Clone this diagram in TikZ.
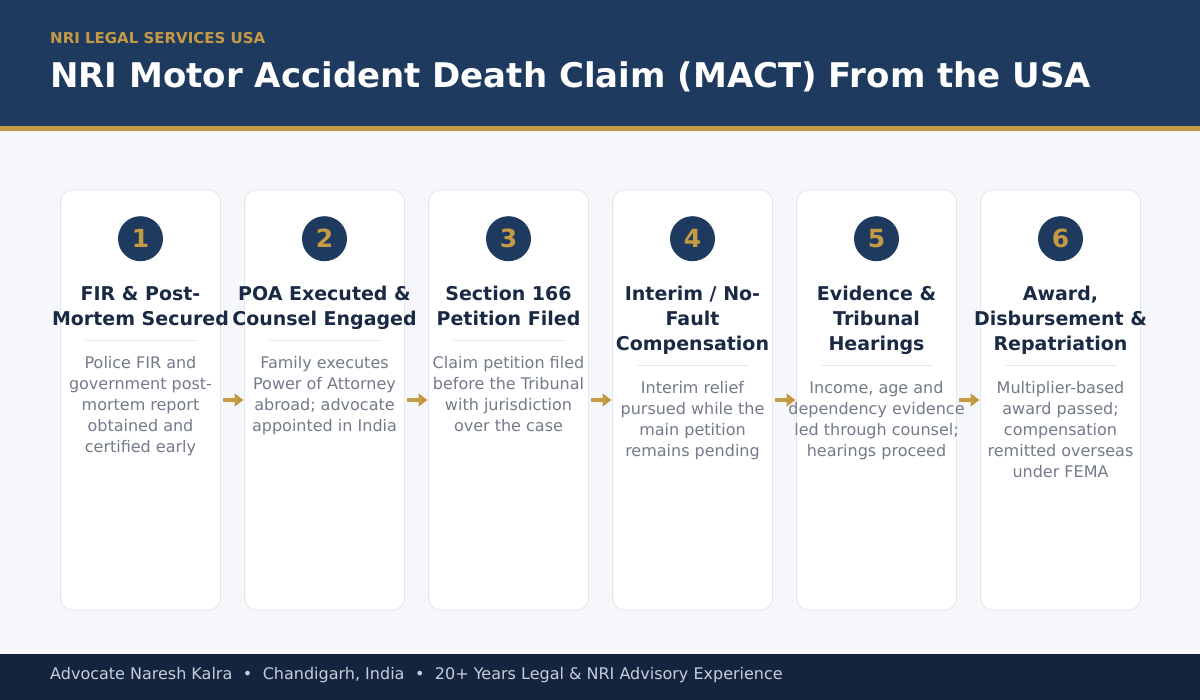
\documentclass[tikz,border=0pt]{standalone}
\usepackage{xcolor}
\usepackage{fontspec}
\setmainfont{DejaVu Sans}
\usetikzlibrary{positioning, arrows.meta}
\definecolor{navy}{HTML}{1F3A5F}
\definecolor{footnavy}{HTML}{15243E}
\definecolor{gold}{HTML}{C49A45}
\definecolor{pagebg}{HTML}{F5F7FA}
\definecolor{cardline}{HTML}{E1E5EC}
\definecolor{divider}{HTML}{E6E8EC}
\definecolor{ink}{HTML}{1A2A44}
\definecolor{slate}{HTML}{737A88}
\definecolor{foottext}{HTML}{C5CDD9}
\tikzstyle{card} = [rectangle, rounded corners=12pt, minimum width=160pt, minimum height=420pt, outer sep=0pt, draw=cardline, fill=white, line width=0.8pt]
\tikzstyle{badge} = [circle, minimum size=45pt, inner sep=0pt, fill=navy, text=gold, font=\bfseries\fontsize{25}{25}\selectfont]
\tikzstyle{steptitle} = [anchor=north, align=center, inner sep=0pt, text=ink, font=\bfseries\fontsize{19}{25}\selectfont]
\tikzstyle{stepdesc} = [anchor=north, align=center, inner sep=0pt, text=slate, font=\fontsize{16}{21}\selectfont]
\tikzstyle{rule} = [draw=divider, line width=0.8pt]
\tikzstyle{arrow} = [draw=gold, line width=3.5pt, -{Triangle[length=9pt, width=13pt]}, shorten <=2pt, shorten >=1pt]
\begin{document}
\begin{tikzpicture}[x=1pt, y=-1pt, node distance=24pt]
    \useasboundingbox (0,0) rectangle (1200,700);
    % Background and bands
    \fill[pagebg] (0,0) rectangle (1200,700);
    \fill[navy] (0,0) rectangle (1200,126);
    \fill[gold] (0,126) rectangle (1200,131);
    \fill[footnavy] (0,654) rectangle (1200,700);
    \node[anchor=base west, inner sep=0pt, text=gold, font=\bfseries\fontsize{15}{15}\selectfont] (kicker) at (50,44) {NRI LEGAL SERVICES USA};
    \node[anchor=base west, inner sep=0pt, text=white, font=\bfseries\fontsize{34}{34}\selectfont] (headline) at (50,88) {NRI Motor Accident Death Claim (MACT) From the USA};
    \node[anchor=base west, inner sep=0pt, text=foottext, font=\fontsize{16}{16}\selectfont] (credit) at (50,679) {Advocate Naresh Kalra\hspace{10.5pt}•\hspace{10.5pt}Chandigarh, India\hspace{10.5pt}•\hspace{10.5pt}20+ Years Legal \& NRI Advisory Experience};

    % Cards
    \node [card] (card1) at (140.5,400) {};
    \node [card, right=of card1] (card2) {};
    \node [card, right=of card2] (card3) {};
    \node [card, right=of card3] (card4) {};
    \node [card, right=of card4] (card5) {};
    \node [card, right=of card5] (card6) {};

    % Badges
    \node [badge, below=26pt of card1.north] (num1) {1};
    \node [badge, below=26pt of card2.north] (num2) {2};
    \node [badge, below=26pt of card3.north] (num3) {3};
    \node [badge, below=26pt of card4.north] (num4) {4};
    \node [badge, below=26pt of card5.north] (num5) {5};
    \node [badge, below=26pt of card6.north] (num6) {6};

    % Titles
    \node [steptitle] (title1) at ([yshift=-96pt]card1.north) {FIR \& Post-\\Mortem Secured};
    \node [steptitle] (title2) at ([yshift=-96pt]card2.north) {POA Executed \&\\Counsel Engaged};
    \node [steptitle] (title3) at ([yshift=-96pt]card3.north) {Section 166\\Petition Filed};
    \node [steptitle] (title4) at ([yshift=-96pt]card4.north) {Interim / No-\\Fault\\Compensation};
    \node [steptitle] (title5) at ([yshift=-96pt]card5.north) {Evidence \&\\Tribunal\\Hearings};
    \node [steptitle] (title6) at ([yshift=-96pt]card6.north) {Award,\\Disbursement \&\\Repatriation};

    % Dividers
    \draw [rule] ([xshift=-56pt, yshift=-150pt]card1.north) -- ++(112,0);
    \draw [rule] ([xshift=-56pt, yshift=-150pt]card2.north) -- ++(112,0);
    \draw [rule] ([xshift=-56pt, yshift=-150pt]card3.north) -- ++(112,0);
    \draw [rule] ([xshift=-56pt, yshift=-175pt]card4.north) -- ++(112,0);
    \draw [rule] ([xshift=-56pt, yshift=-175pt]card5.north) -- ++(112,0);
    \draw [rule] ([xshift=-56pt, yshift=-175pt]card6.north) -- ++(112,0);

    % Descriptions
    \node [stepdesc] (desc1) at ([yshift=-166.5pt]card1.north) {Police FIR and\\government post-\\mortem report\\obtained and\\certified early};
    \node [stepdesc] (desc2) at ([yshift=-166.5pt]card2.north) {Family executes\\Power of Attorney\\abroad; advocate\\appointed in India};
    \node [stepdesc] (desc3) at ([yshift=-166.5pt]card3.north) {Claim petition filed\\before the Tribunal\\with jurisdiction\\over the case};
    \node [stepdesc] (desc4) at ([yshift=-191.5pt]card4.north) {Interim relief\\pursued while the\\main petition\\remains pending};
    \node [stepdesc] (desc5) at ([yshift=-191.5pt]card5.north) {Income, age and\\dependency evidence\\led through counsel;\\hearings proceed};
    \node [stepdesc] (desc6) at ([yshift=-191.5pt]card6.north) {Multiplier-based\\award passed;\\compensation\\remitted overseas\\under FEMA};

    % Arrows
    \draw [arrow] (card1) -- (card2);
    \draw [arrow] (card2) -- (card3);
    \draw [arrow] (card3) -- (card4);
    \draw [arrow] (card4) -- (card5);
    \draw [arrow] (card5) -- (card6);
\end{tikzpicture}
\end{document}
